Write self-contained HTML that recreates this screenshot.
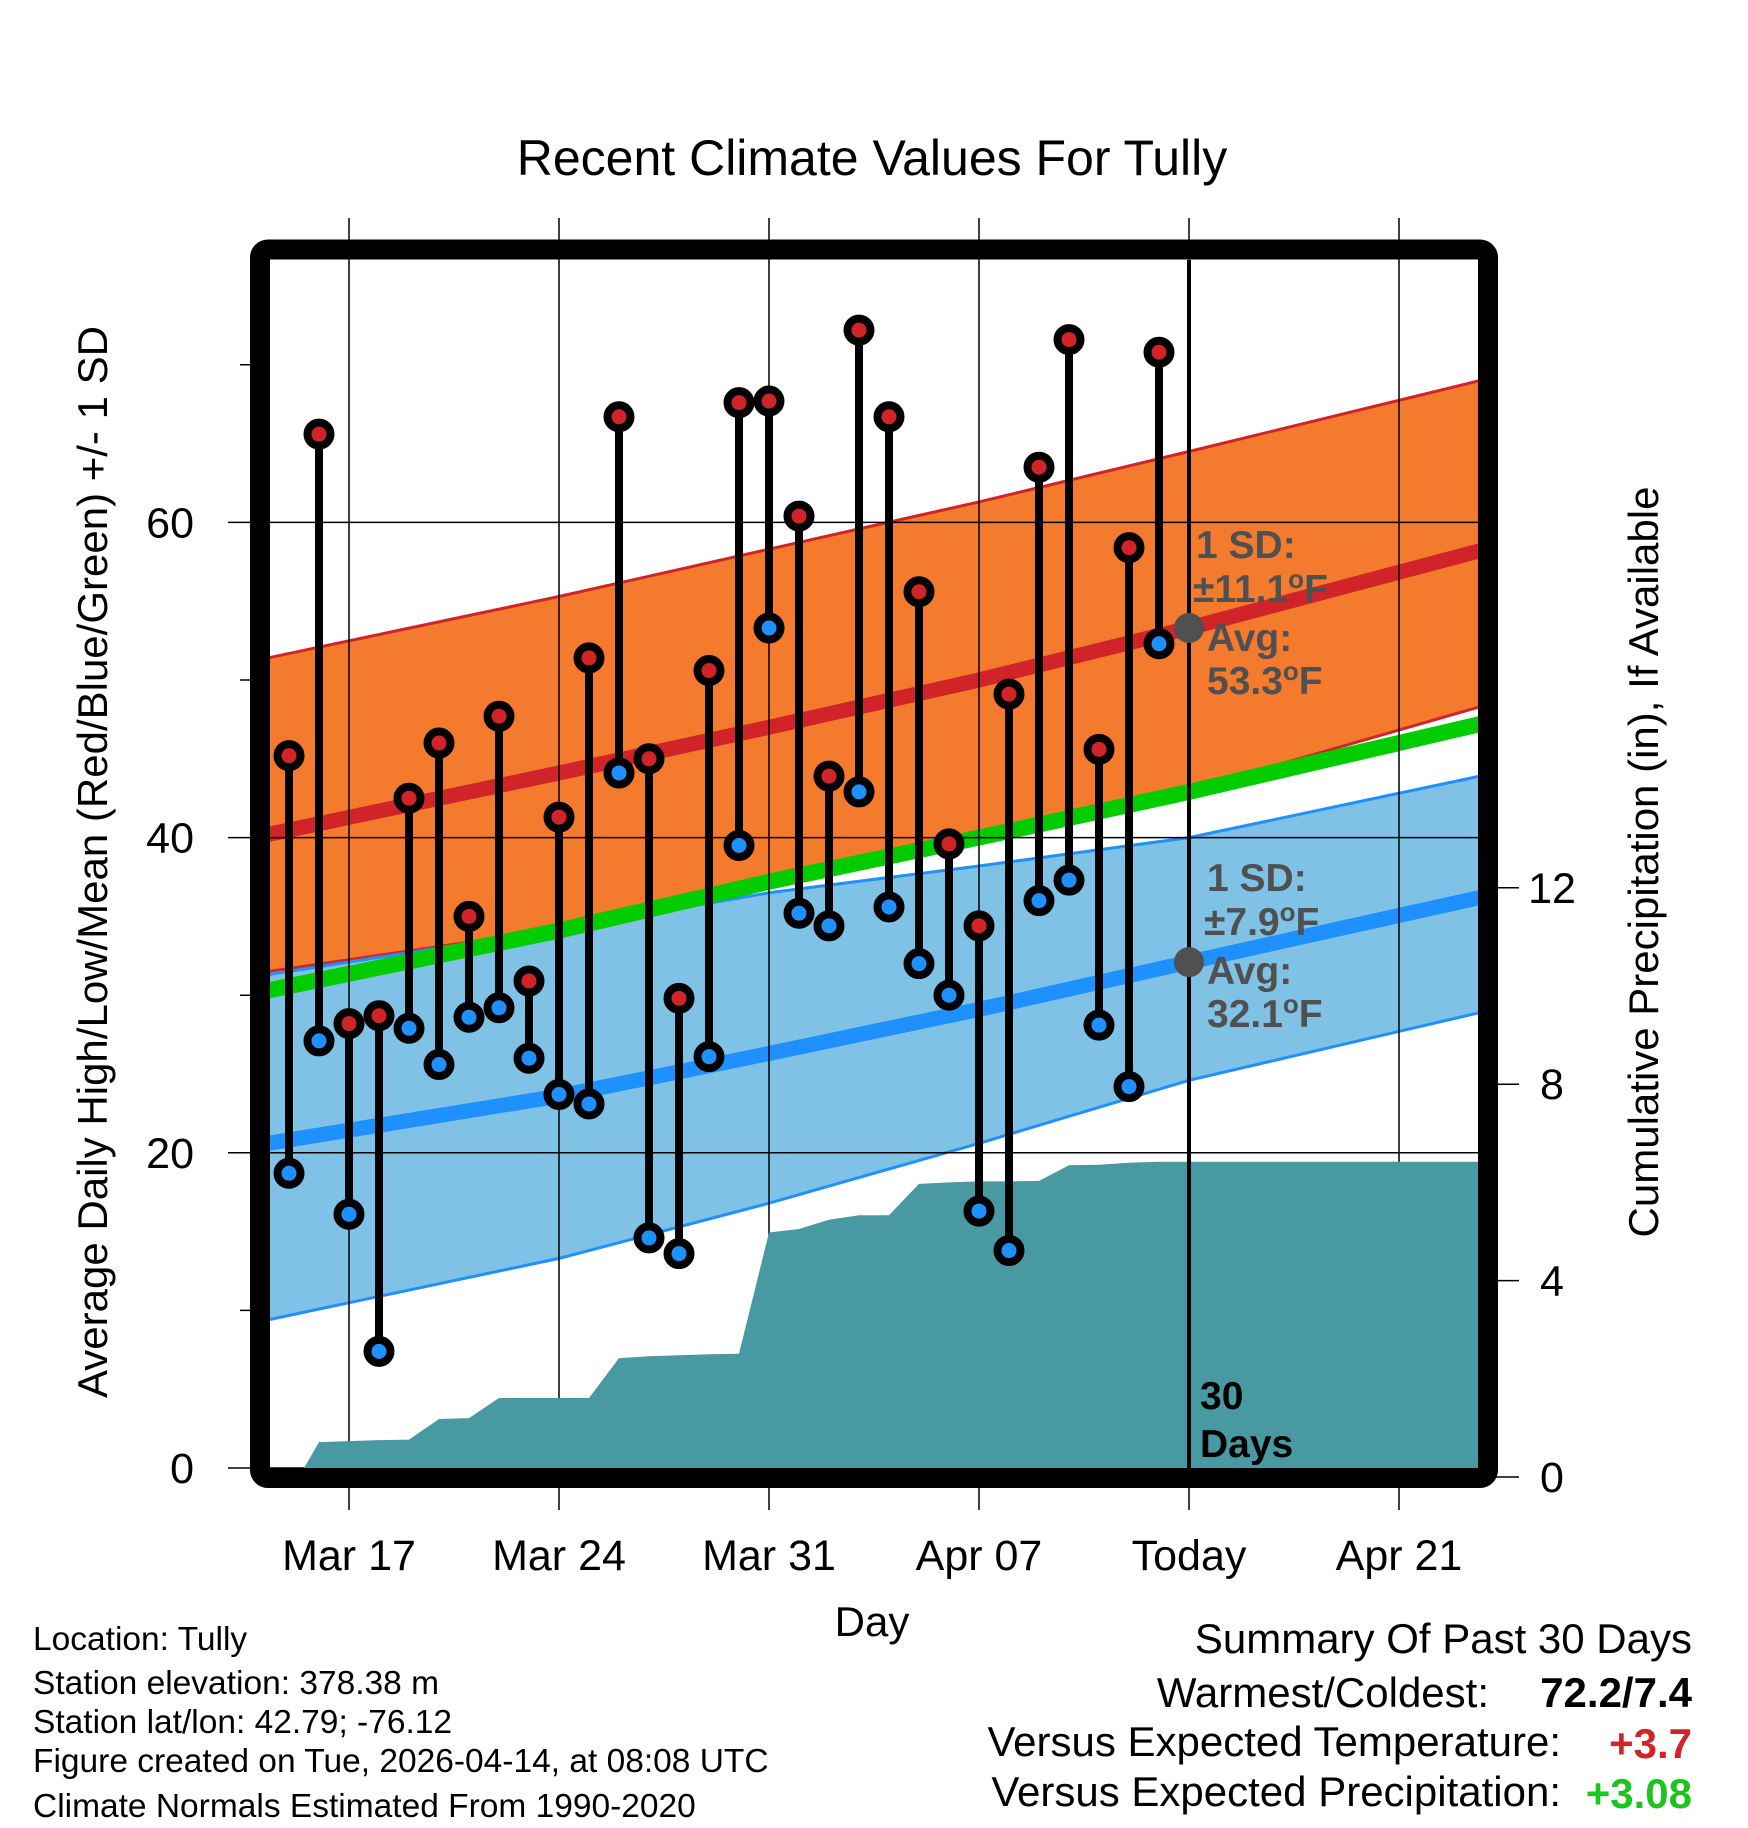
<!DOCTYPE html>
<html><head><meta charset="utf-8">
<style>
html,body{margin:0;padding:0;background:#fff;}
svg{display:block;font-family:"Liberation Sans",Arial,sans-serif;}
</style></head>
<body>
<svg id="chart" width="1748" height="1828" viewBox="0 0 1748 1828">
<defs><clipPath id="plotclip"><rect x="270" y="260" width="1208" height="1208"/></clipPath></defs>
<text x="872" y="175" font-size="50" text-anchor="middle">Recent Climate Values For Tully</text>
<g id="bands" clip-path="url(#plotclip)"></g>
<g id="grid"></g>
<g id="precip" clip-path="url(#plotclip)"></g>
<g id="marks"></g>
<g id="annot"></g>
<rect x="260" y="249.5" width="1228" height="1228.5" rx="8" fill="none" stroke="#000" stroke-width="20"/>
<g id="axes"></g>
<text transform="translate(107,862) rotate(-90)" font-size="42" text-anchor="middle">Average Daily High/Low/Mean (Red/Blue/Green) +/- 1 SD</text>
<text transform="translate(1658,862) rotate(-90)" font-size="42" text-anchor="middle">Cumulative Precipitation (in), If Available</text>
<text x="872" y="1636" font-size="42" text-anchor="middle">Day</text>
<g font-size="33.5">
<text x="33" y="1650">Location: Tully</text>
<text x="33" y="1694">Station elevation: 378.38 m</text>
<text x="33" y="1733">Station lat/lon: 42.79; -76.12</text>
<text x="33" y="1772">Figure created on Tue, 2026-04-14, at 08:08 UTC</text>
<text x="33" y="1817">Climate Normals Estimated From 1990-2020</text>
</g>
<g font-size="42" text-anchor="end">
<text x="1692" y="1653">Summary Of Past 30 Days</text>
<text x="1489" y="1707">Warmest/Coldest:</text>
<text x="1692" y="1707" font-weight="bold">72.2/7.4</text>
<text x="1561" y="1756">Versus Expected Temperature:</text>
<text x="1692" y="1758" font-weight="bold" fill="#D02428">+3.7</text>
<text x="1561" y="1806">Versus Expected Precipitation:</text>
<text x="1692" y="1808" font-weight="bold" fill="#1EC41E">+3.08</text>
</g>
</svg>
<script>
// ---- data ----
const highs = [45.2,65.6,28.2,28.7,42.5,46.0,35.0,47.7,30.9,41.3,51.4,66.7,45.0,29.8,50.6,67.6,67.7,60.4,43.9,72.2,66.7,55.6,39.6,34.4,49.1,63.5,71.6,45.6,58.4,70.8];
const lows = [18.7,27.1,16.1,7.4,27.9,25.6,28.6,29.2,26.0,23.7,23.1,44.1,14.6,13.6,26.1,39.5,53.3,35.2,34.4,42.9,35.6,32.0,30.0,16.3,13.8,36.0,37.3,28.1,24.2,52.3];
const firstDay = -2; // Mar 15 relative to Mar 17
const precipCum = [0,0.71,0.73,0.75,0.76,1.18,1.2,1.61,1.61,1.61,1.61,2.42,2.46,2.48,2.5,2.51,4.98,5.05,5.24,5.33,5.33,5.97,6.0,6.02,6.02,6.03,6.35,6.36,6.4,6.42,6.42];
const normalDays = [-2.7,7,14,21,28,37.7];
const highUpper = [51.4,55.3,58.3,61.3,64.5,69.0];
const highMean = [40.2,44.1,47.0,50.0,53.3,58.2];
const highLower = [31.5,34.2,37.0,40.0,43.0,48.3];
const meanNorm = [30.3,34.1,37.2,40.0,42.9,47.2];
const lowUpper = [31.3,34.2,36.5,38.2,40.0,43.9];
const lowMean = [20.6,23.6,26.3,29.1,32.1,36.2];
const lowLower = [9.4,13.3,16.8,20.6,24.6,28.9];
const xTickDays = [0,7,14,21,28,35];
const xTickLabels = ["Mar 17","Mar 24","Mar 31","Apr 07","Today","Apr 21"];
const yTicks = [0,20,40,60];
const yMinor = [10,30,50,70];
const y2Ticks = [0,4,8,12];
const todayDay = 28;
const todayHighAvg = 53.3, todayLowAvg = 32.1;

// ---- axes ----
const X = d => 349 + d*30.0;
const Y = v => 1468 - v*15.76;
const Y2 = p => 1477 - p*49.1;
const NS = "http://www.w3.org/2000/svg";
function mk(tag, attrs, parent){const e=document.createElementNS(NS,tag);for(const k in attrs)e.setAttribute(k,attrs[k]);parent.appendChild(e);return e;}
const bands=document.getElementById('bands'),grid=document.getElementById('grid'),precip=document.getElementById('precip'),marks=document.getElementById('marks'),annot=document.getElementById('annot'),axes=document.getElementById('axes');

function bandPath(up,lo){let s='';normalDays.forEach((d,i)=>{s+=(i?'L':'M')+X(d)+','+Y(up[i]);});for(let i=normalDays.length-1;i>=0;i--)s+='L'+X(normalDays[i])+','+Y(lo[i]);return s+'Z';}
function linePath(arr){return normalDays.map((d,i)=>(i?'L':'M')+X(d)+','+Y(arr[i])).join('');}

let e;
e=mk('path',{d:bandPath(lowUpper,lowLower),fill:'#80C1E6'},bands);


e=mk('path',{d:bandPath(highUpper,highLower),fill:'#F47A2E'},bands);


[[highUpper,'#D02428',3],[highLower,'#D02428',3],[lowUpper,'#1E90FF',3],[lowLower,'#1E90FF',3]].forEach(a=>{
 e=mk('path',{d:linePath(a[0]),fill:'none',stroke:a[1],'stroke-width':a[2]},bands);
 
 
});
e=mk('path',{d:linePath(meanNorm),fill:'none',stroke:'#00CC00','stroke-width':16},bands);


e=mk('path',{d:linePath(lowMean),fill:'none',stroke:'#1E90FF','stroke-width':15},bands);


e=mk('path',{d:linePath(highMean),fill:'none',stroke:'#D02428','stroke-width':15},bands);



// grid
xTickDays.forEach(d=>{
 e=mk('line',{x1:X(d),x2:X(d),y1:218,y2:1510,stroke:'#000','stroke-width':1.5},grid);
 
 
});
yTicks.forEach(v=>{
 e=mk('line',{x1:228,x2:1478,y1:Y(v),y2:Y(v),stroke:'#000','stroke-width':1.5},grid);
 
 
});
yMinor.forEach(v=>{
 e=mk('line',{x1:240,x2:260,y1:Y(v),y2:Y(v),stroke:'#000','stroke-width':1.5},grid);
 
 
});

// precip
let ps='M'+X(firstDay+0.33)+','+Y2(0);
precipCum.forEach((p,i)=>{const d=firstDay+i; ps+='L'+X(i===0?firstDay+0.33:d)+','+Y2(p);});
ps+='L'+1478+','+Y2(precipCum[precipCum.length-1])+'L1478,'+1478+'L'+X(firstDay+0.33)+',1478Z';
e=mk('path',{d:ps,fill:'#4899A1'},precip);



// today line
e=mk('line',{x1:X(todayDay),x2:X(todayDay),y1:260,y2:1468,stroke:'#000','stroke-width':4},marks);



// stems and dots
highs.forEach((h,i)=>{
 const x=X(firstDay+i);
 e=mk('line',{x1:x,x2:x,y1:Y(h),y2:Y(lows[i]),stroke:'#000','stroke-width':8},marks);
 
 
});
highs.forEach((h,i)=>{
 const x=X(firstDay+i);
 e=mk('circle',{cx:x,cy:Y(h),r:11.5,fill:'#D02428',stroke:'#000','stroke-width':8},marks);
 
 
 e=mk('circle',{cx:x,cy:Y(lows[i]),r:11.5,fill:'#1E90FF',stroke:'#000','stroke-width':8},marks);
 
 
});

// annotations
e=mk('circle',{cx:X(todayDay),cy:Y(todayHighAvg),r:15,fill:'#505050'},annot);


e=mk('circle',{cx:X(todayDay),cy:Y(todayLowAvg),r:15,fill:'#505050'},annot);


function atext(x,y,html,name,fill){const t=mk('text',{x:x,y:y,'font-size':39,'font-weight':'bold',fill:fill||'#505050'},annot);t.innerHTML=html;}
const deg='<tspan font-size="26" dy="-14">o</tspan><tspan dy="14">F</tspan>';
atext(1196,558,'1 SD:','high-sd-label');
atext(1193,602,'±11.1'+deg,'high-sd-value');
atext(1207,651,'Avg:','high-avg-label');
atext(1207,694,'53.3'+deg,'high-avg-value');
atext(1207,891,'1 SD:','low-sd-label');
atext(1204,935,'±7.9'+deg,'low-sd-value');
atext(1207,984,'Avg:','low-avg-label');
atext(1207,1027,'32.1'+deg,'low-avg-value');
atext(1200,1409,'30','days-count-label','#000');
atext(1200,1457,'Days','days-label','#000');

// axis labels
yTicks.forEach(v=>{
 const t=mk('text',{x:194,y:Y(v)+15,'font-size':43,'text-anchor':'end'},axes);
 t.textContent=v;
 
 
});
y2Ticks.forEach(p=>{
 e=mk('line',{x1:1488,x2:1519,y1:Y2(p),y2:Y2(p),stroke:'#000','stroke-width':1.5},axes);
 
 
 const t=mk('text',{x:1552,y:Y2(p)+15,'font-size':43,'text-anchor':'middle'},axes);
 t.textContent=p;
 
 
});
xTickDays.forEach((d,i)=>{
 const t=mk('text',{x:X(d),y:1570,'font-size':43,'text-anchor':'middle'},axes);
 t.textContent=xTickLabels[i];
 
 
});
</script>
</body></html>
